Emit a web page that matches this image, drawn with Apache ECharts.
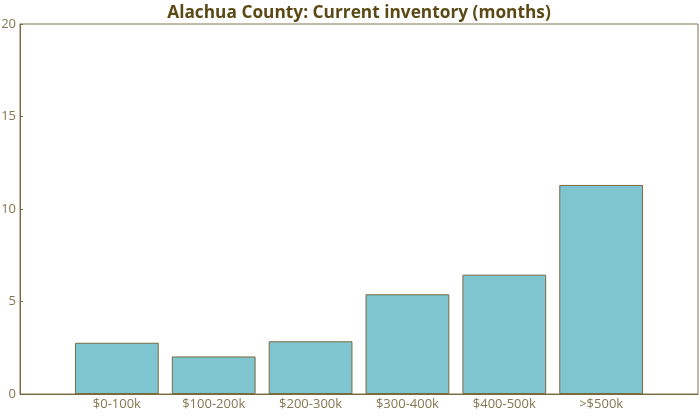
<!DOCTYPE html>
<html><head><meta charset="utf-8">
<script src="https://cdn.jsdelivr.net/npm/echarts@6/dist/echarts.min.js"></script>
<style>html,body{margin:0;padding:0;background:#fff}#c{width:700px;height:416px}</style>
</head><body><div id="c"></div>
<script>
const titleText = 'Alachua County: Current inventory (months)';
const categories = ['$0-100k', '$100-200k', '$200-300k', '$300-400k', '$400-500k', '>$500k'];
const inventoryMonths = [2.77, 2.03, 2.85, 5.39, 6.45, 11.3];
const yTicks = [0, 5, 10, 15, 20];

const axisCats = [''].concat(categories, ['']);
const barData = [null].concat(inventoryMonths, [null]);

const chart = echarts.init(document.getElementById('c'), null, {renderer: 'canvas'});
chart.setOption({
  animation: false,
  title: {
    text: titleText, left: 354, top: 0, textAlign: 'center',
    textStyle: {fontFamily: 'Open Sans', fontWeight: 'bold', fontSize: 17.3, color: '#5b4a16'}
  },
  grid: {left: 20, right: 2, top: 24, bottom: 22, show: true, borderColor: '#857650', borderWidth: 1,
         containLabel: false, outerBoundsMode: 'none'},
  xAxis: {
    type: 'category', data: axisCats, boundaryGap: false,
    axisLine: {lineStyle: {color: '#7a6a40'}},
    axisTick: {show: false},
    axisLabel: {color: '#857650', fontFamily: 'Open Sans', fontSize: 13, margin: 4, interval: 0},
    splitLine: {show: false}
  },
  yAxis: {
    type: 'value', min: yTicks[0], max: yTicks[yTicks.length - 1], interval: 5,
    axisLine: {show: true, lineStyle: {color: '#7a6a40'}},
    axisTick: {show: true, inside: true, length: 3, lineStyle: {color: '#7a6a40'}},
    axisLabel: {color: '#857650', fontFamily: 'Open Sans', fontSize: 13, margin: 4},
    splitLine: {show: false}
  },
  series: [{
    type: 'bar', data: barData, barWidth: '86.5%',
    itemStyle: {color: '#7fc5cf', borderColor: '#7a6a40', borderWidth: 1}
  }]
});
</script></body></html>
